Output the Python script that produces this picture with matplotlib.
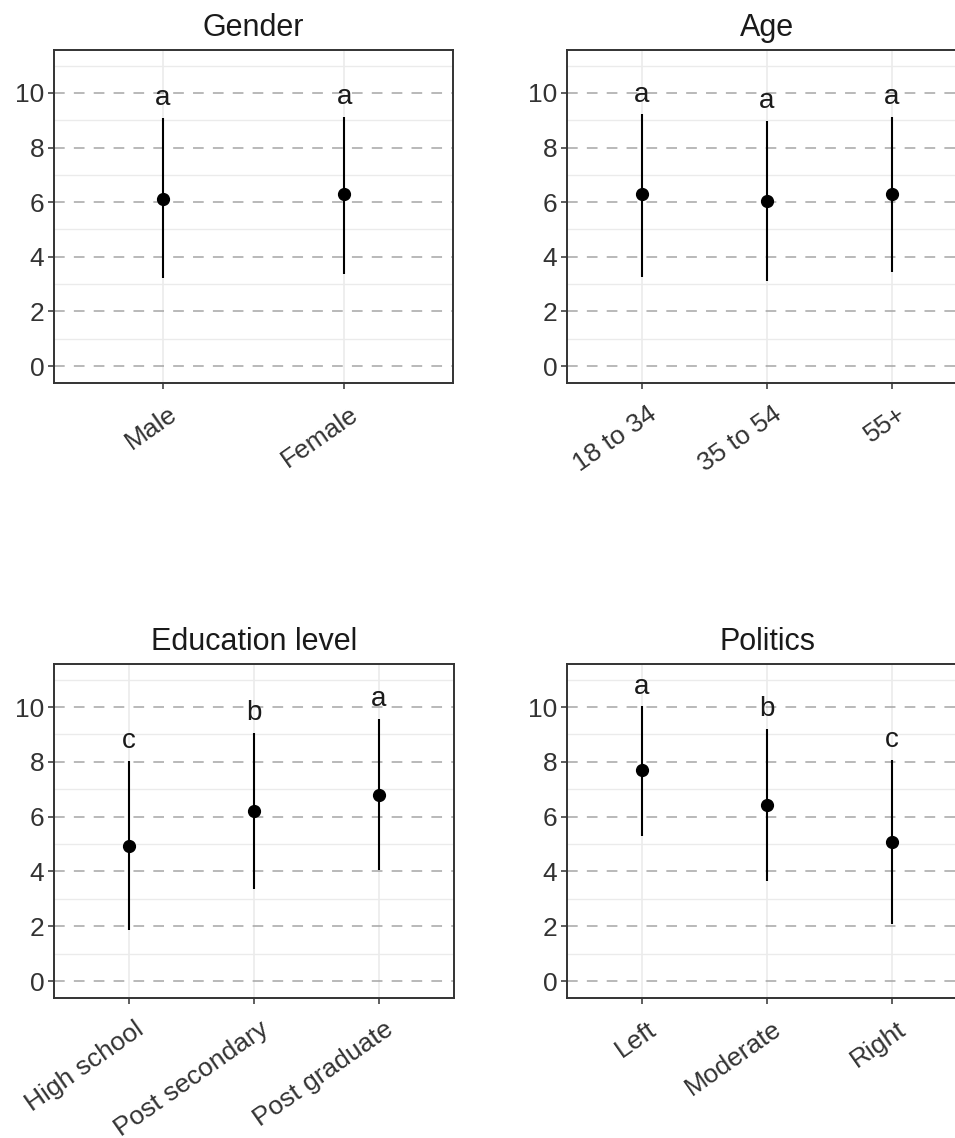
import matplotlib
matplotlib.use("Agg")
import matplotlib.pyplot as plt
import matplotlib.transforms as mtransforms

plt.rcParams['font.family'] = ['Liberation Sans', 'DejaVu Sans']

# ---- data ----
gender_cats = ["Male", "Female"]
gender_mean = [6.12, 6.30]
gender_low = [3.22, 3.36]
gender_high = [9.08, 9.13]
gender_letters = ["a", "a"]

age_cats = ["18 to 34", "35 to 54", "55+"]
age_mean = [6.30, 6.05, 6.30]
age_low = [3.27, 3.11, 3.43]
age_high = [9.22, 8.97, 9.13]
age_letters = ["a", "a", "a"]

edu_cats = ["High school", "Post secondary", "Post graduate"]
edu_mean = [4.92, 6.20, 6.79]
edu_low = [1.87, 3.36, 4.04]
edu_high = [8.03, 9.05, 9.56]
edu_letters = ["c", "b", "a"]

pol_cats = ["Left", "Moderate", "Right"]
pol_mean = [7.70, 6.42, 5.07]
pol_low = [5.31, 3.66, 2.09]
pol_high = [10.02, 9.19, 8.06]
pol_letters = ["a", "b", "c"]

y_ticks = [0, 2, 4, 6, 8, 10]
y_minor = [1, 3, 5, 7, 9, 11]

W, H = 955, 1138
fig = plt.figure(figsize=(W / 100, H / 100), dpi=100)
fig.patch.set_facecolor('white')

def px_axes(l, t, r, b):
    return fig.add_axes([l / W, 1 - b / H, (r - l) / W, (b - t) / H])

panels = [
    ("Gender", gender_cats, gender_mean, gender_low, gender_high, gender_letters, (54, 50, 453, 383)),
    ("Age", age_cats, age_mean, age_low, age_high, age_letters, (567, 50, 967, 383)),
    ("Education level", edu_cats, edu_mean, edu_low, edu_high, edu_letters, (54, 664, 454, 998)),
    ("Politics", pol_cats, pol_mean, pol_low, pol_high, pol_letters, (567, 664, 967, 998)),
]

dark = '#333333'
for title, cats, mean, low, high, letters, box in panels:
    ax = px_axes(*box)
    n = len(cats)
    xs = list(range(n))
    ax.set_xlim(-0.6, n - 1 + 0.6)
    ax.set_ylim(-0.62, 11.57)
    # grid
    for v in y_minor:
        ax.axhline(v, color='#EBEBEB', lw=1.0, zorder=0)
    for x in xs:
        ax.axvline(x, color='#EBEBEB', lw=1.2, zorder=0)
    for v in y_ticks:
        ax.axhline(v, color='#A6A6A6', lw=1.1, ls=(0, (7, 6)), zorder=0.5)
    # error lines and points
    ax.vlines(xs, low, high, color='black', lw=1.5, zorder=2)
    ax.plot(xs, mean, 'o', color='black', ms=8.5, zorder=3)
    for x, hv, lt in zip(xs, high, letters):
        ax.text(x, hv + 0.72, lt, ha='center', va='center', fontsize=20, color='#1a1a1a', zorder=4)
    ax.set_yticks(y_ticks)
    ax.set_yticklabels([str(v) for v in y_ticks], fontsize=19, color=dark)
    ax.set_xticks(xs)
    ax.set_xticklabels([])
    base = mtransforms.blended_transform_factory(ax.transData, ax.transAxes)
    offset = mtransforms.ScaledTranslation(5 / 100, -19 / 100, fig.dpi_scale_trans)
    for x, c in zip(xs, cats):
        ax.text(x, 0, c, transform=base + offset, fontsize=19, color=dark,
                rotation=35, ha='right', va='top', rotation_mode='anchor', clip_on=False)
    ax.tick_params(axis='both', length=4, width=1.1, color=dark, pad=3)
    for s in ax.spines.values():
        s.set_color(dark)
        s.set_linewidth(1.4)
    ax.set_title(title, fontsize=22, color='#1a1a1a', pad=10)

fig.savefig("out.png", dpi=100)
